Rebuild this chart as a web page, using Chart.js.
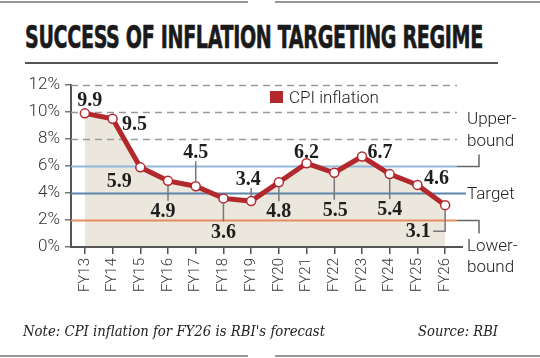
<!DOCTYPE html>
<html>
<head>
<meta charset="utf-8">
<script src="https://cdn.jsdelivr.net/npm/chart.js@4/dist/chart.umd.min.js"></script>
<style>
  html, body { margin:0; padding:0; background:#fff; }
  #wrap { position:relative; width:540px; height:358px; overflow:hidden; background:#fff; }
  canvas { position:absolute; left:0; top:0; }
  .abs { position:absolute; white-space:nowrap; }
  #title { left:25px; top:19px; font-family:"DejaVu Sans Condensed","DejaVu Sans",sans-serif; font-stretch:condensed; font-weight:bold; font-size:32px; line-height:36px; color:#1a1a1a; transform-origin:0 0; letter-spacing:-0.5px; -webkit-text-stroke:0.6px #1a1a1a; }
  .rule { position:absolute; height:2px; background:#555; }
  .edge { position:absolute; height:2px; background:#999; }
  .note { font-family:"DejaVu Serif","Liberation Serif",serif; font-style:italic; font-size:15px; line-height:18px; color:#222; transform-origin:0 0; }
  .side { font-family:Roboto,"Liberation Sans",sans-serif; font-weight:300; font-size:17px; line-height:20px; color:#222; }
  #legsq { position:absolute; left:270px; top:91px; width:13px; height:12px; background:#b3282d; }
</style>
</head>
<body>
<div id="wrap">
  <div class="edge" style="left:0;top:1px;width:248px;"></div>
  <div class="edge" style="left:275px;top:1px;width:265px;"></div>
  <div id="title" class="abs">SUCCESS OF INFLATION TARGETING REGIME</div>
  <div class="rule" style="left:25px;top:62px;width:473px;"></div>
  <canvas id="c" width="540" height="358"></canvas>
  <div id="legsq"></div>
  <div class="abs side" style="left:289px;top:87px;">CPI inflation</div>
  <div class="abs side" style="left:467px;top:108px;">Upper-</div>
  <div class="abs side" style="left:467px;top:130px;">bound</div>
  <div class="abs side" style="left:467px;top:183px;">Target</div>
  <div class="abs side" style="left:467px;top:235px;">Lower-</div>
  <div class="abs side" style="left:467px;top:256px;">bound</div>
  <div id="note" class="abs note" style="left:23px;top:322px;">Note: CPI inflation for FY26 is RBI's forecast</div>
  <div id="src" class="abs note" style="left:418px;top:322px;">Source: RBI</div>
  <div class="edge" style="left:0;top:355px;width:248px;"></div>
  <div class="edge" style="left:275px;top:355px;width:265px;"></div>
</div>
<script>
// ---- data ----
const categories = ["FY13","FY14","FY15","FY16","FY17","FY18","FY19","FY20","FY21","FY22","FY23","FY24","FY25","FY26"];
const cpiInflation = [9.9, 9.5, 5.9, 4.9, 4.5, 3.6, 3.4, 4.8, 6.2, 5.5, 6.7, 5.4, 4.6, 3.1];
const yTicks = [0, 2, 4, 6, 8, 10, 12];
const upperBound = 6;
const target = 4;
const lowerBound = 2;

// fit text widths
function fitWidth(id, w) {
  const el = document.getElementById(id);
  const cw = el.getBoundingClientRect().width;
  el.style.transform = 'scaleX(' + (w / cw) + ')';
}
fitWidth('title', 458);
fitWidth('note', 302);
fitWidth('src', 80);

// label placement (style): dx, dy of label centre from point, leader type
const labelStyle = [
  {dx:5, dy:-14}, {dx:22, dy:5}, {dx:-21, dy:13}, {dx:-5, dy:30, lead:'v'},
  {dx:0, dy:-34, lead:'v'}, {dx:0, dy:33, lead:'v'}, {dx:-3, dy:-22, lead:'v'},
  {dx:0, dy:29, lead:'v'}, {dx:0, dy:-11}, {dx:1, dy:37, lead:'v'},
  {dx:18, dy:-5}, {dx:0, dy:35, lead:'v'}, {dx:19, dy:-7}, {dx:-27, dy:26, lead:'elbow'}
];

const refLines = {
  id:'refLines',
  beforeDatasetsDraw(chart) {
    const {ctx, chartArea:a, scales:{y}} = chart;
    ctx.save();
    const line = (v, color, w, dash, x1, x2) => {
      const py = Math.round(y.getPixelForValue(v)) + 0.5;
      ctx.beginPath();
      ctx.setLineDash(dash || []);
      ctx.strokeStyle = color; ctx.lineWidth = w;
      ctx.moveTo(x1, py); ctx.lineTo(x2, py); ctx.stroke();
    };
    yTicks.forEach(v => {
      if (v >= 8) line(v, '#9a9a9a', 1.5, [7,5], a.left, a.right - 2);
    });
    line(upperBound, '#8fb8dc', 2, null, a.left, a.right - 2);
    line(target, '#5d86ad', 2, null, a.left, a.right + 7);
    line(lowerBound, '#e98b62', 2, null, a.left, a.right - 2);
    // brackets
    ctx.setLineDash([]);
    ctx.strokeStyle = '#666'; ctx.lineWidth = 1.5;
    const yu = Math.round(y.getPixelForValue(upperBound)) + 0.5;
    ctx.beginPath(); ctx.moveTo(a.right - 2, yu); ctx.lineTo(a.right + 20, yu); ctx.lineTo(a.right + 20, yu - 12); ctx.stroke();
    const yl = Math.round(y.getPixelForValue(lowerBound)) + 0.5;
    ctx.beginPath(); ctx.moveTo(a.right - 2, yl); ctx.lineTo(a.right + 20, yl); ctx.lineTo(a.right + 20, yl + 13); ctx.stroke();
    const y0 = y.getPixelForValue(0);
    ctx.strokeStyle = '#555'; ctx.lineWidth = 2;
    ctx.beginPath(); ctx.moveTo(a.right - 2, y0); ctx.lineTo(a.right + 4, y0); ctx.stroke();
    ctx.restore();
  }
};

const dataLabels = {
  id:'dataLabels',
  afterDatasetsDraw(chart) {
    const ctx = chart.ctx;
    const meta = chart.getDatasetMeta(0);
    ctx.save();
    ctx.font = 'bold 20px "Liberation Serif", serif';
    ctx.textAlign = 'center';
    ctx.textBaseline = 'middle';
    meta.data.forEach((pt, i) => {
      const s = labelStyle[i];
      const tx = pt.x + s.dx, ty = pt.y + s.dy;
      ctx.strokeStyle = '#777'; ctx.lineWidth = 1.5;
      if (s.lead === 'v') {
        ctx.beginPath();
        if (s.dy > 0) { ctx.moveTo(pt.x, pt.y + 5); ctx.lineTo(pt.x, ty - 10); }
        else { ctx.moveTo(pt.x, pt.y - 5); ctx.lineTo(pt.x, ty + 9); }
        ctx.stroke();
      } else if (s.lead === 'elbow') {
        ctx.beginPath();
        ctx.moveTo(pt.x, pt.y + 5); ctx.lineTo(pt.x, ty); ctx.lineTo(tx + 15, ty); ctx.stroke();
      }
      ctx.fillStyle = '#1e1e1e';
      ctx.fillText(cpiInflation[i].toFixed(1), tx, ty + 1);
    });
    ctx.restore();
  }
};

new Chart(document.getElementById('c'), {
  type:'line',
  data:{
    labels:categories,
    datasets:[{
      label:'CPI inflation',
      data:cpiInflation,
      borderColor:'#b3282d',
      borderWidth:5,
      backgroundColor:'#ebe7dc',
      fill:'origin',
      tension:0,
      pointRadius:4.5,
      pointBackgroundColor:'#fff',
      pointBorderColor:'#b3282d',
      pointBorderWidth:1.5
    }]
  },
  options:{
    responsive:false,
    animation:false,
    devicePixelRatio:1,
    layout:{ padding:{ top:85, right:81, left:0, bottom:0 } },
    plugins:{ legend:{display:false}, tooltip:{enabled:false}, filler:{drawTime:'beforeDraw'} },
    scales:{
      x:{
        type:'category',
        offset:true,
        grid:{ drawOnChartArea:false, drawTicks:true, tickLength:7, color:'#555', lineWidth:1.5, offset:false },
        border:{ display:true, color:'#555', width:2 },
        ticks:{ minRotation:90, maxRotation:90, padding:4, color:'#333', font:{ family:'Roboto', weight:300, size:15 } },
        afterFit(s){ s.height = 111; }
      },
      y:{
        min:0, max:12,
        afterBuildTicks(s){ s.ticks = yTicks.map(v => ({value:v})); },
        grid:{ drawOnChartArea:false, drawTicks:true, tickLength:6, color:'#777', lineWidth:1.5 },
        border:{ display:true, color:'#555', width:2 },
        ticks:{ padding:5, color:'#333', font:{ family:'Roboto', weight:300, size:17 }, callback:v => v + '%' },
        afterFit(s){ s.width = 71; }
      }
    }
  },
  plugins:[refLines, dataLabels]
});
</script>
</body>
</html>
